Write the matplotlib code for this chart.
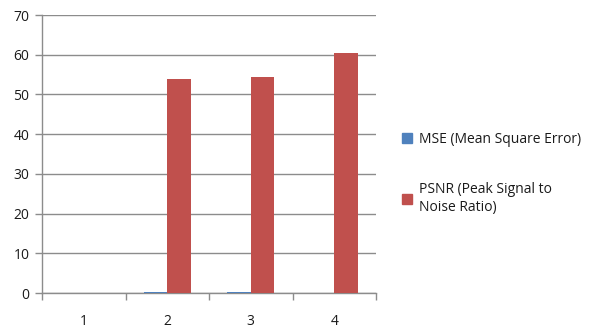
import matplotlib
matplotlib.use("Agg")
import matplotlib.pyplot as plt
import numpy as np
from matplotlib.patches import Patch

categories = ["1", "2", "3", "4"]
mse = [0.0, 0.35, 0.35, 0.05]
psnr = [0.0, 54.0, 54.3, 60.4]
yticks = [0, 10, 20, 30, 40, 50, 60, 70]

plt.rcParams['font.family'] = ['Open Sans', 'DejaVu Sans']

fig = plt.figure(figsize=(5.96, 3.28), dpi=100)
ax = fig.add_axes([0.0705, 0.1067, 0.5605, 0.8473])

x = np.arange(len(categories))
w = 0.28
blue = "#4F81BD"
red = "#C0504D"
ax.bar(x - w/2, mse, w, color=blue, zorder=3)
ax.bar(x + w/2, psnr, w, color=red, zorder=3)

ax.set_xlim(-0.5, len(categories) - 0.5)
ax.set_ylim(0, 70)
ax.set_yticks(yticks)
ax.yaxis.grid(True, color="#8c8c8c", linewidth=1.0, zorder=0)
ax.set_axisbelow(True)

ax.set_xticks(x)
ax.set_xticklabels(categories)
ax.set_xticks(np.arange(-0.5, len(categories)), minor=True)
ax.tick_params(axis='x', which='major', length=0, pad=15, labelsize=10, labelcolor="#1a1a1a")
ax.tick_params(axis='x', which='minor', length=5, color="#8c8c8c", width=1)
ax.tick_params(axis='y', length=5, color="#8c8c8c", width=1, labelsize=10, labelcolor="#1a1a1a", pad=4)

for s in ["top", "right"]:
    ax.spines[s].set_visible(False)
for s in ["left", "bottom"]:
    ax.spines[s].set_color("#8c8c8c")
    ax.spines[s].set_linewidth(1.0)

handles = [Patch(color=blue), Patch(color=red)]
labels = ["MSE (Mean Square Error)", "PSNR (Peak Signal to\nNoise Ratio)"]
leg = fig.legend(handles, labels, loc="upper left", bbox_to_anchor=(0.654, 0.635),
                 frameon=False, fontsize=10, handlelength=0.7, handleheight=0.7,
                 handletextpad=0.5, labelspacing=2.5)
for t in leg.get_texts():
    t.set_linespacing(1.3)
    t.set_color("#1a1a1a")

fig.savefig("out.png", dpi=100)
